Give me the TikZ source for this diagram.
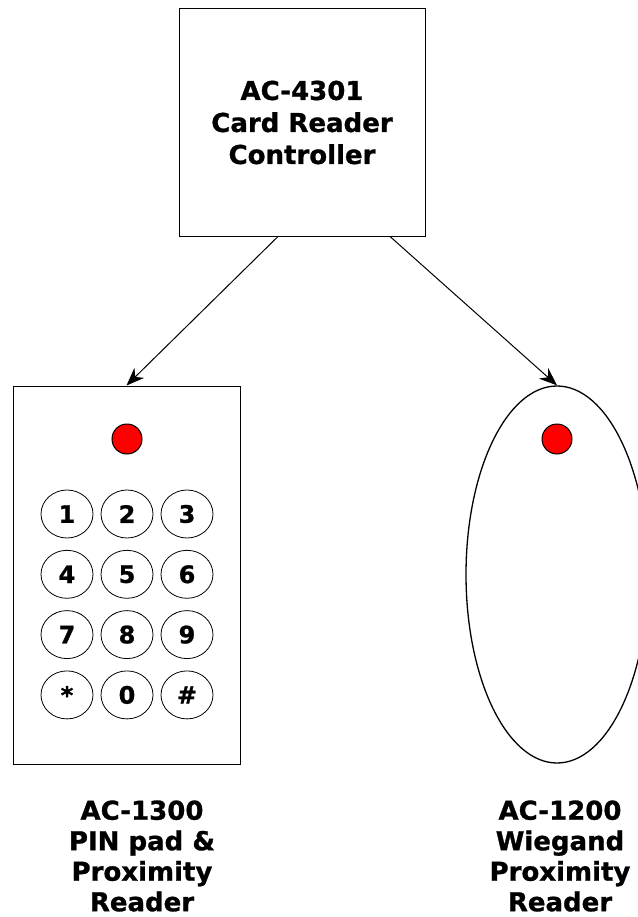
\documentclass[tikz,border=0pt]{standalone}
\usepackage{fontspec}
\setmainfont{DejaVu Sans}[BoldFeatures={FakeBold=1}]
\usetikzlibrary{arrows.meta,shapes.geometric}

\begin{document}
\begin{tikzpicture}[
    x=1pt, y=-1pt,
    devBox/.style={draw, line width=1pt, inner sep=0pt},
    devText/.style={font=\bfseries\fontsize{26}{30.5}\selectfont, align=center},
    keyCap/.style={draw, ellipse, line width=0.8pt, minimum width=52pt,
        minimum height=48pt, inner sep=0pt,
        font=\bfseries\fontsize{24}{24}\selectfont},
    ledLamp/.style={draw, circle, fill=red, line width=1pt,
        minimum size=30pt, inner sep=0pt},
    link/.style={-{Stealth[length=18pt,width=14pt]}, line width=1pt}
]
    \useasboundingbox (0,0) rectangle (637,917);

    % controller
    \node[devBox, devText, font=\bfseries\fontsize{26}{32}\selectfont,
        minimum width=246pt, minimum height=227pt]
        (ctrl) at (302,122.5) {AC-4301\\Card Reader\\Controller};

    % PIN pad with its keys
    \node[devBox, minimum width=227pt, minimum height=378pt]
        (pad) at (126.5,575) {};
    \node[ledLamp] (padLed) at (127,439) {};
    \foreach \key [count=\i from 0] in {1,2,3,4,5,6,7,8,9,*,0,\#} {
        \pgfmathtruncatemacro\col{mod(\i,3)}
        \pgfmathtruncatemacro\row{div(\i,3)}
        \node[keyCap] (key\i) at (67+60*\col,514+60.3*\row) {\key};
    }

    % proximity reader
    \node[devBox, ellipse, line width=1.3pt, minimum width=182pt,
        minimum height=377pt] (prox) at (557,574.5) {};
    \node[ledLamp] (proxLed) at (557,439) {};

    % wiring
    \draw[link] ([xshift=-24pt]ctrl.south) -- (pad.north);
    \draw[link] ([xshift=88pt]ctrl.south) -- (prox.north);

    % names
    \node[devText] (padName) at (142,856) {AC-1300\\PIN pad \&\\Proximity\\Reader};
    \node[devText] (proxName) at (560,856) {AC-1200\\Wiegand\\Proximity\\Reader};
\end{tikzpicture}
\end{document}
